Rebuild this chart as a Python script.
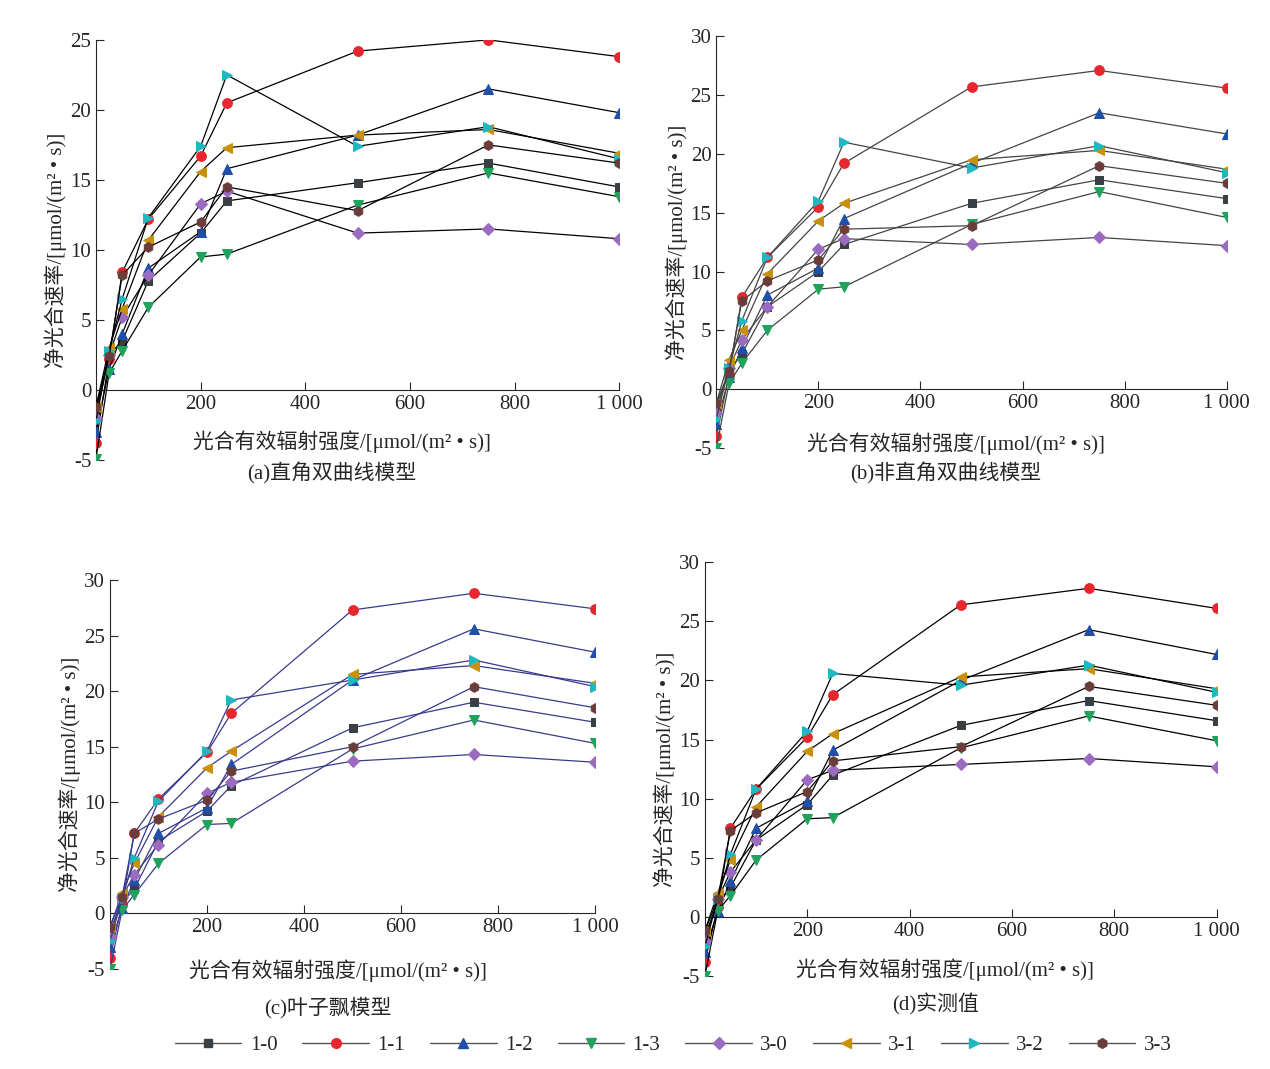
import numpy as np, pandas as pd, matplotlib
matplotlib.use("Agg")
import matplotlib.pyplot as plt, seaborn as sns
from matplotlib.lines import Line2D

sns.set_style("ticks")
plt.rcParams['font.family'] = ['Liberation Serif', 'Noto Sans CJK SC']
plt.rcParams['axes.unicode_minus'] = False

par = [0, 25, 50, 100, 200, 250, 500, 750, 1000]
series = ["1-0", "1-1", "1-2", "1-3", "3-0", "3-1", "3-2", "3-3"]
titles = ["(a)直角双曲线模型", "(b)非直角双曲线模型", "(c)叶子飘模型", "(d)实测值"]

a_vals = {
 "1-0": [-1.5, 2.5, 3.5, 7.8, 11.2, 13.5, 14.8, 16.2, 14.5],
 "1-1": [-3.8, 2.2, 8.4, 12.2, 16.7, 20.5, 24.2, 25.0, 23.8],
 "1-2": [-3.0, 1.5, 4.0, 8.7, 11.3, 15.8, 18.2, 21.5, 19.8],
 "1-3": [-4.9, 1.2, 2.8, 5.9, 9.5, 9.7, 13.2, 15.5, 13.8],
 "3-0": [-2.0, 2.5, 5.2, 8.2, 13.3, 14.2, 11.2, 11.5, 10.8],
 "3-1": [-1.2, 3.0, 5.8, 10.7, 15.6, 17.3, 18.2, 18.6, 16.9],
 "3-2": [-2.2, 2.8, 6.5, 12.3, 17.4, 22.5, 17.4, 18.8, 16.5],
 "3-3": [-1.2, 2.4, 8.2, 10.2, 12.0, 14.5, 12.8, 17.5, 16.2]}
b_vals = {
 "1-0": [-1.5, 1.5, 3.0, 7.0, 10.0, 12.3, 15.8, 17.8, 16.2],
 "1-1": [-4.0, 1.2, 7.8, 11.2, 15.5, 19.2, 25.7, 27.1, 25.6],
 "1-2": [-3.0, 1.0, 3.5, 8.0, 10.3, 14.5, 19.2, 23.5, 21.7],
 "1-3": [-5.0, 0.5, 2.2, 5.0, 8.5, 8.7, 14.0, 16.8, 14.6],
 "3-0": [-2.0, 1.8, 4.2, 7.0, 11.9, 12.8, 12.3, 12.9, 12.2],
 "3-1": [-1.2, 2.5, 5.0, 9.8, 14.3, 15.8, 19.5, 20.3, 18.7],
 "3-2": [-2.5, 1.8, 5.8, 11.2, 16.0, 21.0, 18.8, 20.7, 18.4],
 "3-3": [-1.2, 1.5, 7.5, 9.2, 11.0, 13.6, 13.9, 19.0, 17.5]}
c_vals = {
 "1-0": [-1.5, 1.0, 2.2, 6.5, 9.2, 11.5, 16.7, 19.0, 17.2],
 "1-1": [-4.0, 0.8, 7.2, 10.3, 14.5, 18.0, 27.3, 28.8, 27.4],
 "1-2": [-3.0, 0.5, 3.0, 7.2, 9.5, 13.4, 21.0, 25.6, 23.5],
 "1-3": [-5.0, 0.3, 1.7, 4.5, 8.0, 8.1, 14.8, 17.4, 15.3],
 "3-0": [-2.0, 1.5, 3.5, 6.2, 10.8, 11.8, 13.7, 14.3, 13.6],
 "3-1": [-1.2, 1.8, 4.5, 8.7, 13.1, 14.6, 21.5, 22.3, 20.7],
 "3-2": [-2.5, 1.3, 5.0, 10.1, 14.6, 19.2, 21.0, 22.8, 20.4],
 "3-3": [-1.2, 1.5, 7.2, 8.5, 10.2, 12.8, 15.0, 20.4, 18.5]}
d_vals = {
 "1-0": [-1.5, 1.0, 2.5, 6.5, 9.5, 12.0, 16.2, 18.3, 16.6],
 "1-1": [-3.8, 0.8, 7.5, 10.8, 15.2, 18.8, 26.4, 27.8, 26.1],
 "1-2": [-3.0, 0.5, 3.0, 7.5, 9.8, 14.1, 20.0, 24.3, 22.2],
 "1-3": [-5.0, 0.5, 1.8, 4.8, 8.3, 8.4, 14.3, 17.0, 14.9],
 "3-0": [-2.0, 1.5, 3.8, 6.5, 11.6, 12.4, 12.9, 13.4, 12.7],
 "3-1": [-1.2, 2.0, 4.8, 9.3, 14.0, 15.5, 20.3, 21.0, 19.3],
 "3-2": [-2.5, 1.5, 5.3, 10.8, 15.7, 20.6, 19.6, 21.3, 19.0],
 "3-3": [-1.2, 1.5, 7.3, 8.8, 10.6, 13.2, 14.4, 19.5, 17.9]}

colors = {"1-0": "#3a3f44", "1-1": "#e8262d", "1-2": "#1f4fa8", "1-3": "#1fa35c",
          "3-0": "#9b6bc0", "3-1": "#c8900c", "3-2": "#20b8c0", "3-3": "#6b3d3a"}
markers = {"1-0": "s", "1-1": "o", "1-2": "^", "1-3": "v",
           "3-0": "D", "3-1": "<", "3-2": ">", "3-3": "h"}
msize = {"1-0": 6, "1-1": 7, "1-2": 7, "1-3": 7, "3-0": 6, "3-1": 7, "3-2": 7, "3-3": 7}
line_colors = ["black", "#444444", "#3a3a8c", "black"]

fig = plt.figure(figsize=(12.7, 10.69), dpi=100)
rects = [(0.0756, 0.5697, 0.412, 0.393, 25), (0.564, 0.581, 0.402, 0.385, 30),
         (0.0866, 0.0935, 0.382, 0.364, 30), (0.555, 0.087, 0.403, 0.387, 30)]
label_y = [(0.043, -0.033), (0.010, -0.063), (-0.005, -0.098), (0.0145, -0.068)]
ylab = "净光合速率/[μmol/(m² • s)]"
xlab = "光合有效辐射强度/[μmol/(m² • s)]"
for i, (vals, (l, b, w, h, ymax)) in enumerate(zip([a_vals, b_vals, c_vals, d_vals], rects)):
    ax = fig.add_axes([l, b, w, h])
    rows = [(s, x, y) for s in series for x, y in zip(par, vals[s])]
    df = pd.DataFrame(rows, columns=["s", "x", "y"])
    for s in series:
        sns.lineplot(data=df[df.s == s], x="x", y="y", ax=ax, color=line_colors[i], lw=0.9,
                     marker=markers[s], markersize=msize[s], markerfacecolor=colors[s],
                     markeredgecolor=colors[s], legend=False, zorder=3)
    ax.set_xlim(0, 1000)
    ax.set_ylim(-5, ymax)
    ax.spines['bottom'].set_position(('data', 0))
    ax.spines['right'].set_visible(False); ax.spines['top'].set_visible(False)
    ax.set_xticks([200, 400, 600, 800, 1000])
    ax.set_xticklabels(["200", "400", "600", "800", "1 000"])
    ax.set_yticks(list(range(-5, ymax + 1, 5)))
    ax.tick_params(direction='in', labelsize=15, length=6)
    ax.set_xlabel(""); ax.set_ylabel(ylab, fontsize=15, labelpad=2)
    ax.text(0.47, label_y[i][0], xlab, transform=ax.transAxes, ha='center', va='center', fontsize=15)
    ax.text(0.45, label_y[i][1], titles[i], transform=ax.transAxes, ha='center', va='center', fontsize=15)

handles = [Line2D([], [], color='#555555', lw=1, marker=markers[s], markersize=msize[s],
                  markerfacecolor=colors[s], markeredgecolor=colors[s]) for s in series]
fig.legend(handles, series, loc='center', bbox_to_anchor=(0.53, 0.022), ncol=8, frameon=False,
           fontsize=15, handlelength=3.2, columnspacing=1.2, handletextpad=0.4)
fig.savefig("out.png", dpi=100)
